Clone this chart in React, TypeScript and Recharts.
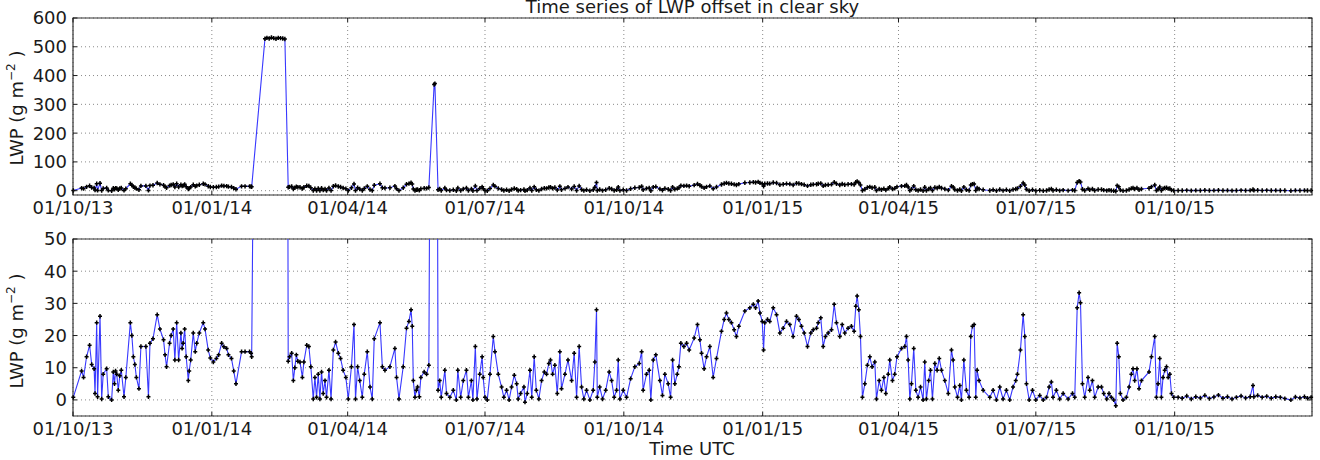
import React from "react";
import { LineChart, Line, XAxis, YAxis, CartesianGrid, ReferenceArea } from "recharts";

// Days counted from 01/10/2013; the record ends on the last day of 2015.
const firstDay = 0;
const lastDay = 821;

const tickDays = [0, 92, 182, 273, 365, 457, 547, 638, 730];
const tickLabels = [
  "01/10/13",
  "01/01/14",
  "01/04/14",
  "01/07/14",
  "01/10/14",
  "01/01/15",
  "01/04/15",
  "01/07/15",
  "01/10/15",
];

const fullTicks = [0, 100, 200, 300, 400, 500, 600];
const zoomTicks = [0, 10, 20, 30, 40, 50];

// [day, LWP in g m-2] per quarter
const q4_2013: [number, number][] = [
  [0.2, 0.8], [5.7, 9], [7, 7], [9, 13.4], [11, 17], [12.4, 11], [14, 9.7], [14.6, 2],
  [15.7, 24], [16.3, 1], [17.9, 26], [19, 0.3], [20, 8], [22.3, 9.7], [23.4, 1], [25.6, 0],
  [26.7, 8.7], [27.5, 5], [28.2, 9], [29, 8], [30, 3], [31, 7.5], [32, 9.2], [33.8, 1],
  [35, 7], [38, 24], [39, 20], [40, 13.4], [41, 11], [42, 7], [43.7, 3.5], [45, 16.6],
  [48.3, 16.6], [50, 1], [51, 17.6], [53, 19], [55.8, 26.5], [57.6, 22], [60, 18.7],
  [61, 14], [62, 10.3], [64, 17.6], [65, 20], [66.4, 22], [67.5, 12.4], [68.7, 24],
  [70, 12.4], [71.5, 20.8], [72.3, 16], [73, 17.6], [74, 22], [75, 13.4], [76.4, 6],
  [77, 9], [78, 12.4], [79.7, 20.8], [81, 15], [82, 17.6], [83.7, 20.8], [86.3, 24],
  [87.5, 22], [89.6, 15.5], [91, 13],
];

const q1_2014: [number, number][] = [
  [93, 11.8], [95, 12.9], [96.5, 14], [98.5, 17.6], [100, 16.5], [101.8, 16], [103, 14],
  [105, 12.9], [106.5, 9], [108, 5], [111.7, 15], [114, 15], [117, 15], [118, 14.5],
  [118.4, 13.4],
  [127.2, 528], [128.5, 531], [130, 529], [131.5, 532], [133, 530], [134.5, 528],
  [136, 531], [137.5, 530], [139, 529], [140.4, 527],
  [142.6, 12], [143.5, 13.4], [144.9, 14.5], [146, 6], [147, 10], [148, 14], [149, 12],
  [150.4, 11.8], [152, 7], [153, 11.8], [154.9, 17], [156.3, 16.6], [157.6, 10.3],
  [159.2, 0.3], [160.3, 7], [161.4, 0.8], [162.5, 8], [163.6, 0.3], [164.7, 8.7],
  [165.8, 2], [167, 6], [168, 0.8], [169.6, 9.2], [171, 0.3], [172.5, 15.5], [174, 18],
  [175.8, 14.5], [177.3, 12.9], [179, 9.2], [180.8, 7],
];

const q2_2014: [number, number][] = [
  [182.4, 0.3], [184.5, 10.3], [186.2, 23.4], [187.2, 0.3], [188.6, 10.3], [190, 6],
  [191.7, 0.8], [193, 8], [195, 15], [196.8, 4], [198.3, 0.3], [199.6, 19], [203.4, 24],
  [205, 10.3], [206.7, 9.2], [210, 10.3], [213.3, 16], [214.4, 7], [216, 0.3],
  [218.8, 10.3], [221, 22.3], [222.6, 24.4], [224, 28], [224.8, 22.9], [225.5, 6],
  [226.6, 0.8], [227.5, 3], [228.3, 4], [229.5, 1], [230.5, 7], [232.7, 8.7], [234.3, 8],
  [235.8, 10.8],
  [239.3, 369], [239.8, 372],
  [241.9, 3], [243, 6], [244, 0.8], [246.4, 9.2], [247.5, 2], [249.7, 0.8], [252, 3],
  [254, 0], [255, 9.2], [256.9, 0.8], [258.6, 6], [260.7, 9.2], [262, 0.8], [264, 6],
  [265, 0], [266.6, 16.6], [267.7, 0.3], [269.5, 8], [271.1, 13.4], [271.8, 7],
];

const q3_2014: [number, number][] = [
  [273, 0.8], [274.5, 0], [276.3, 8], [278.5, 19.7], [279.6, 15], [281.8, 8], [284, 4],
  [285.5, 0.8], [287.3, 3], [289, 0], [290.6, 4], [292.4, 7.7], [294, 5], [295, 0.3],
  [296.6, 2], [298.8, 4], [299.5, -0.7], [301, 2], [302.8, 9.2], [304, 0.8], [305.6, 13.4],
  [307, 3], [308.7, 0.3], [310.5, 6], [312.3, 8.7], [313.8, 8], [315.3, 11.3],
  [316.4, 12.4], [317.8, 8], [319.3, 10.8], [320.9, 2], [322.6, 15], [323.7, 3.5],
  [326, 8], [328, 12.4], [330.4, 6], [332.1, 14.5], [333.7, 0.8], [335.4, 16.6], [337, 4],
  [338.5, 0.3], [340.3, 3], [342.5, 0], [344.7, 3], [345.8, 11.8], [346.9, 28],
  [347.4, 0.8], [349, 4], [350.9, 0.3], [353, 3], [355.3, 8.7], [356.9, 6], [358.6, 0.8],
  [360.2, 3], [361.3, 12.4], [362.4, 0.3], [364.6, 3],
];

const q4_2014: [number, number][] = [
  [366.8, 0.8], [369.5, 6.6], [372.3, 10.3], [375.2, 11.3], [376.8, 15], [377.8, 3],
  [380, 8], [381.8, 9.2], [382.9, 0], [384.5, 12.4], [386.2, 14], [388.9, 6], [390.6, 1.4],
  [392.2, 8], [394.4, 5], [396, 0.8], [397.3, 12.4], [398.8, 5], [400.4, 8], [401.5, 10.3],
  [402.8, 17.6], [404.8, 16.6], [406.6, 17.6], [408.3, 15.5], [411.6, 19.2],
  [413.8, 23.4], [415.4, 18.7], [416.5, 14.5], [418.2, 9.7], [419.8, 13.4], [422, 16.6],
  [424.2, 7], [426.4, 12.9], [429.7, 21.3], [431.5, 25], [433, 27], [434.6, 25],
  [436.3, 24], [438.1, 21.8], [439.6, 19.7], [441.2, 22.9], [445.2, 27.6], [448.5, 28.6],
  [450.8, 29.7], [452.3, 28.6], [454, 30.7], [455.2, 27], [456.7, 24.4],
];

const q1_2015: [number, number][] = [
  [457.6, 15.5], [458.4, 24], [460.2, 25], [461.7, 24.4], [464, 28.6], [466.2, 26.5],
  [468.4, 20.8], [470.6, 22.3], [472.8, 24.4], [475, 23.4], [477.2, 19.7], [479.4, 26],
  [481, 25], [482.7, 22.9], [484.5, 20.8], [486.7, 16.6], [488.9, 20.8], [490.5, 21.8],
  [492.7, 22.3], [493.8, 24], [495.5, 25.5], [497.1, 16.6], [498.6, 19.7], [500.4, 20.8],
  [502.6, 21.8], [504.4, 29.7], [505.9, 24], [508.1, 19.7], [509.7, 23.4], [511.4, 20.8],
  [513.6, 22.3], [515.8, 22.9], [517.6, 21.3], [518.7, 29.1], [519.6, 32.3], [520.7, 28],
  [521.8, 19.7], [523.1, 0.8], [524.7, 5], [526.4, 10.8], [528, 13.4], [529.5, 10.3],
  [531.3, 11.8], [532.4, 0.3], [534.2, 6], [535.7, 3], [537.3, 7], [538.6, 2], [540.2, 8],
  [541.2, 12.4], [543, 6], [544.5, 8], [546, 13.4],
];

const q2_2015: [number, number][] = [
  [549, 16], [551.2, 16.6], [552.3, 19.7], [553.4, 12.4], [554.5, 0.3], [555.6, 5],
  [557.1, 16], [558.5, 3], [560, 0.8], [561.6, 4], [563.3, 0], [564.4, 11.8], [565.5, 0.3],
  [567, 6], [568.2, 9.2], [569.5, 0.3], [571.1, 11.3], [572.6, 9.2], [574, 12.9],
  [575.5, 9.2], [577.7, 6], [580, 2], [582.1, 15.5], [583.2, 12.4], [584.3, 4],
  [586.1, 0.8], [587.6, 4.5], [588.7, 0], [590.3, 12.4], [592, 3], [593.8, 0.8],
  [594.9, 19.7], [596, 22.9], [597.1, 23.4], [598.2, 0.8], [599.1, 9.2], [600.4, 6],
  [603.1, 3], [607.5, 0.8], [609.7, 3], [611.9, 0], [614.1, 4], [616.3, 0.3], [618.5, 3],
  [620.7, 0], [622.9, 4], [624.7, 6], [625.8, 8], [627.8, 15.5], [629.6, 26.5],
  [630.7, 19.7], [631.8, 5], [633.6, 0], [635.8, 3],
];

const q3_2015: [number, number][] = [
  [638, 0], [640.6, 1.4], [642.9, 0], [645.1, 0.8], [646.8, 4], [648.3, 5.6], [649.4, 0.8],
  [651.6, 3], [653.8, 0.3], [656.1, 2], [659.4, 0.3], [662.3, 2], [663.8, 0.8],
  [665.4, 28.6], [666.7, 33.3], [667.6, 30.2], [668.9, 5], [670.4, 0.8], [672.6, 7],
  [673.7, 3], [675.5, 6], [677, 0.8], [679.3, 4], [681.5, 4], [683, 2], [685, 0.3],
  [686.5, 2], [688, 0.8], [689.6, 0], [691, -1.8], [691.9, 17.6], [693, 13.4], [694, 2],
  [695.8, 0], [698, 0.8], [699.8, 4], [701.3, 8], [702.4, 9.7], [703.5, 6], [705, 9.7],
  [706.4, 3.5], [708, 6], [713, 8.7], [714.6, 13.4], [716.8, 19.7], [717.9, 0.8], [719, 5],
  [720.1, 12.9], [721.2, 0.8], [722.3, 7], [723.4, 9.2], [724.6, 10.3], [725.7, 7],
  [726.8, 8], [727.9, 2], [729.4, 0.8],
];

const q4_2015: [number, number][] = [
  [732.3, 0.8], [735, 0.5], [738, 1.2], [741, 0.3], [744, 1], [747, 0.6], [750, 1.4],
  [753, 0.4], [756, 0.9], [759, 1.5], [762, 0.5], [765, 1], [768, 0.3], [770.9, 0.8],
  [774, 1.2], [777, 0.6], [780, 1], [781.9, 4.5], [782.5, 1], [785, 1.4], [788, 0.8],
  [791, 1.1], [794, 0.5], [797, 1], [800, 0.8], [803, 0.4], [807, 0], [810, 0.9],
  [813, 0.6], [816, 1], [818, 0.5], [820.4, 0.8],
];

const readings = [
  ...q4_2013, ...q1_2014, ...q2_2014, ...q3_2014,
  ...q4_2014, ...q1_2015, ...q2_2015, ...q3_2015, ...q4_2015,
];
const series = readings.map(([day, lwp]) => ({ day, lwp }));

const FONT = "DejaVu Sans, sans-serif";
const INK = "#1a1a1a";
const PLOT_LEFT = 73;
const PLOT_RIGHT = 1312;

// inward ticks on all four sides, like the classic matplotlib style
const makeXTick = (plotTop: number) => (p: any) => {
  const { x, y, payload } = p;
  const i = tickDays.indexOf(payload.value);
  return (
    <g>
      <line x1={x} x2={x} y1={y} y2={y - 4} stroke={INK} />
      <line x1={x} x2={x} y1={plotTop} y2={plotTop + 4} stroke={INK} />
      <text x={x} y={y + 19} textAnchor="middle" fontSize={18} fontFamily={FONT} fill={INK}>
        {tickLabels[i]}
      </text>
    </g>
  );
};

const YTick = (p: any) => {
  const { x, y, payload } = p;
  return (
    <g>
      <line x1={x} x2={x + 4} y1={y} y2={y} stroke={INK} />
      <line x1={PLOT_RIGHT} x2={PLOT_RIGHT - 4} y1={y} y2={y} stroke={INK} />
      <text x={x - 6} y={y} dy="0.36em" textAnchor="end" fontSize={18} fontFamily={FONT} fill={INK}>
        {payload.value}
      </text>
    </g>
  );
};

const YTitle = ({ cy }: { cy: number }) => (
  <text
    transform={`translate(23, ${cy}) rotate(-90)`}
    textAnchor="middle"
    fontSize={18}
    fontFamily={FONT}
    fill={INK}
  >
    LWP (g m
    <tspan dy={-8} fontSize={12}>
      −2
    </tspan>
    <tspan dy={8}> )</tspan>
  </text>
);

const XTitle = ({ baseline }: { baseline: number }) => (
  <text transform={`translate(692, ${baseline})`} textAnchor="middle" fontSize={18} fontFamily={FONT} fill={INK}>
    Time UTC
  </text>
);

const renderMark = (p: any) => {
  const { cx, cy, index } = p;
  if (cx == null || cy == null) return <g key={index} />;
  return (
    <path
      key={index}
      d={`M${cx - 2},${cy}h4M${cx},${cy - 2.2}v4.4`}
      stroke="#000"
      strokeWidth={1.5}
      fill="none"
    />
  );
};

type PanelProps = {
  top: number;
  height: number;
  marginTop: number;
  axisHeight: number;
  yDomain: [number, number];
  yTicks: number[];
  titleCy: number;
  xTitleBaseline?: number;
};

function Panel({ top, height, marginTop, axisHeight, yDomain, yTicks, titleCy, xTitleBaseline }: PanelProps) {
  return (
    <div style={{ position: "absolute", left: 0, top }}>
      <LineChart
        width={1320}
        height={height}
        data={series}
        margin={{ top: marginTop, right: 1320 - PLOT_RIGHT, bottom: 0, left: 0 }}
      >
        <CartesianGrid stroke="#8a8a8a" strokeDasharray="1 3" />
        <XAxis
          dataKey="day"
          type="number"
          domain={[firstDay, lastDay]}
          ticks={tickDays}
          height={axisHeight}
          axisLine={false}
          tickLine={false}
          tickSize={0}
          tickMargin={0}
          tick={makeXTick(marginTop)}
          interval={0}
          label={xTitleBaseline ? <XTitle baseline={xTitleBaseline} /> : undefined}
        />
        <YAxis
          type="number"
          domain={yDomain}
          ticks={yTicks}
          allowDataOverflow
          width={PLOT_LEFT}
          axisLine={false}
          tickLine={false}
          tickSize={0}
          tickMargin={0}
          tick={YTick}
          interval={0}
          label={<YTitle cy={titleCy} />}
        />
        <Line
          type="linear"
          dataKey="lwp"
          stroke="#3838ff"
          strokeWidth={1.1}
          dot={renderMark}
          activeDot={false}
          isAnimationActive={false}
        />
        <ReferenceArea
          x1={firstDay}
          x2={lastDay}
          y1={yDomain[0]}
          y2={yDomain[1]}
          fill="none"
          stroke="#333"
          strokeWidth={1.2}
          ifOverflow="visible"
        />
      </LineChart>
    </div>
  );
}

export default function App() {
  return (
    <div
      style={{
        position: "absolute",
        left: 0,
        top: 0,
        width: 1320,
        height: 460,
        background: "#fff",
        overflow: "hidden",
      }}
    >
      <Panel
        top={0}
        height={220}
        marginTop={18}
        axisHeight={25}
        yDomain={[-15, 600]}
        yTicks={fullTicks}
        titleCy={108}
      />
      <Panel
        top={220}
        height={240}
        marginTop={19}
        axisHeight={44}
        yDomain={[-5, 50]}
        yTicks={zoomTicks}
        titleCy={111}
        xTitleBaseline={235}
      />
      <div
        style={{
          position: "absolute",
          left: PLOT_LEFT,
          width: PLOT_RIGHT - PLOT_LEFT,
          top: -2,
          textAlign: "center",
          fontFamily: FONT,
          fontSize: 18,
          lineHeight: "18px",
          color: INK,
        }}
      >
        Time series of LWP offset in clear sky
      </div>
    </div>
  );
}
